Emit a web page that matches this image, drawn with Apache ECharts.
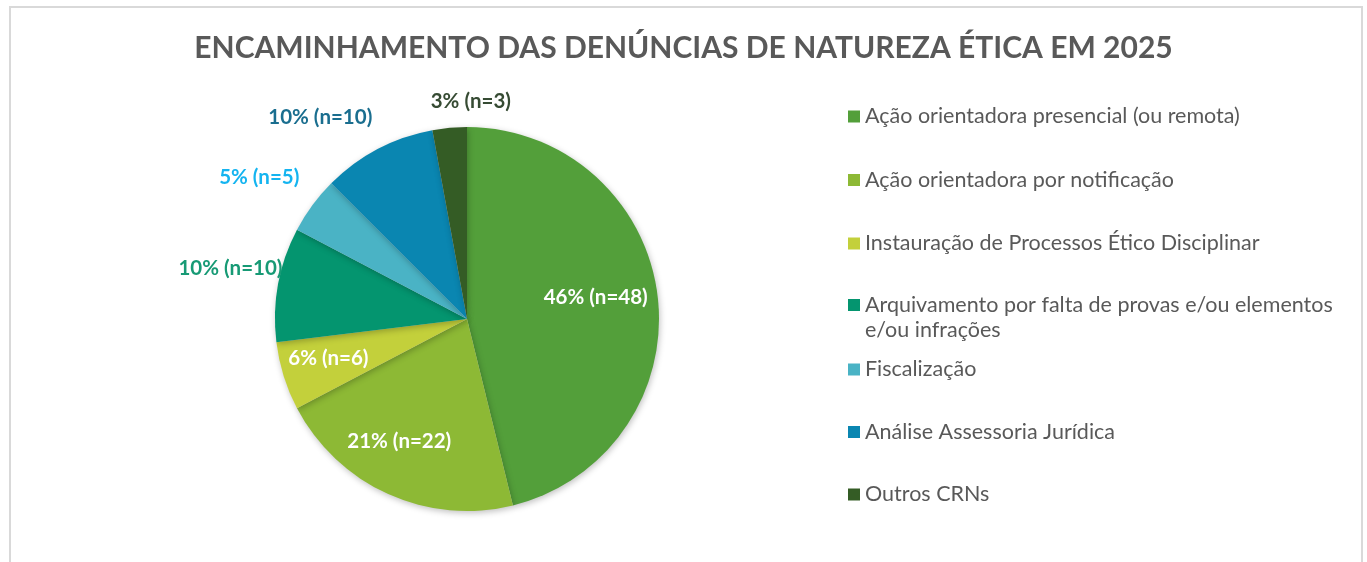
<!DOCTYPE html>
<html>
<head>
<meta charset="utf-8">
<script src="https://cdn.jsdelivr.net/npm/echarts@6/dist/echarts.min.js"></script>
<style>
  html, body { margin: 0; padding: 0; background: #fff; }
  #frame { position: absolute; left: 9px; top: 6px; width: 1354px; height: 560px; border: 2px solid #d9d9d9; border-bottom: none; box-sizing: border-box; }
  #main { position: absolute; left: 0; top: 0; width: 1367px; height: 562px; }
</style>
</head>
<body>
<div id="frame"></div>
<div id="main"></div>
<script>
const categories = [
  'Ação orientadora presencial (ou remota)',
  'Ação orientadora por notificação',
  'Instauração de Processos Ético Disciplinar',
  'Arquivamento por falta de provas e/ou elementos e/ou infrações',
  'Fiscalização',
  'Análise Assessoria Jurídica',
  'Outros CRNs'
];
const counts = [48, 22, 6, 10, 5, 10, 3];
const percents = [46, 21, 6, 10, 5, 10, 3];

const colors = ['#539f3a', '#8db935', '#c3d03b', '#04956f', '#4ab3c5', '#0a86b1', '#345c25'];
const labelColors = ['#ffffff', '#ffffff', '#ffffff', '#179a75', '#14b4f0', '#1a6e8f', '#364b33'];
// label placement: angle from 12 o'clock (clockwise) and distance as fraction of radius
const labelAngle = [80.3, 208.9, 254.3, 282.1, 304.3, 324, 1.0];
const labelRatio = [0.68, 0.73, 0.75, 1.26, 1.31, 1.30, 1.135];

const font = 'Lato, "Open Sans", sans-serif';
const cx = 467, cy = 319, r = 192;

const chart = echarts.init(document.getElementById('main'));

const data = categories.map((name, i) => ({
  name: name,
  value: counts[i],
  itemStyle: { color: colors[i] },
  label: { color: labelColors[i] }
}));

const legendText = {
  color: '#595959',
  fontFamily: font,
  fontSize: 21.5,
  lineHeight: 25
};

const legendBase = {
  orient: 'vertical',
  left: 843,
  itemWidth: 12,
  itemHeight: 12,
  icon: 'rect',
  textStyle: legendText
};

chart.setOption({
  title: {
    text: 'ENCAMINHAMENTO DAS DENÚNCIAS DE NATUREZA ÉTICA EM 2025',
    left: 'center',
    top: 28,
    textStyle: { color: '#595959', fontFamily: font, fontWeight: 'bold', fontSize: 30 }
  },
  legend: [
    Object.assign({}, legendBase, { top: 99, itemGap: 38.5, data: categories.slice(0, 3) }),
    // the long item wraps; an empty first line keeps the square beside the first text line
    Object.assign({}, legendBase, {
      top: 262.5,
      data: categories.slice(3, 4),
      formatter: n => '\n' + n.replace('elementos e/ou', 'elementos\ne/ou')
    }),
    Object.assign({}, legendBase, { top: 352, itemGap: 37.5, data: categories.slice(4) })
  ],
  series: [{
    type: 'pie',
    center: [cx, cy],
    radius: r,
    startAngle: 90,
    clockwise: true,
    silent: true,
    data: data,
    itemStyle: { shadowBlur: 6, shadowColor: 'rgba(0,0,0,0.25)', shadowOffsetX: 1, shadowOffsetY: 2 },
    label: {
      position: 'inside',
      fontFamily: font,
      fontWeight: 'bold',
      fontSize: 20.5,
      formatter: p => percents[p.dataIndex] + '% (n=' + counts[p.dataIndex] + ')'
    },
    labelLine: { show: false },
    labelLayout: function (p) {
      const i = p.dataIndex;
      const a = labelAngle[i] * Math.PI / 180;
      const d = labelRatio[i] * r;
      return {
        x: cx + d * Math.sin(a),
        y: cy - d * Math.cos(a),
        align: 'center',
        verticalAlign: 'middle'
      };
    }
  }]
});
</script>
</body>
</html>
